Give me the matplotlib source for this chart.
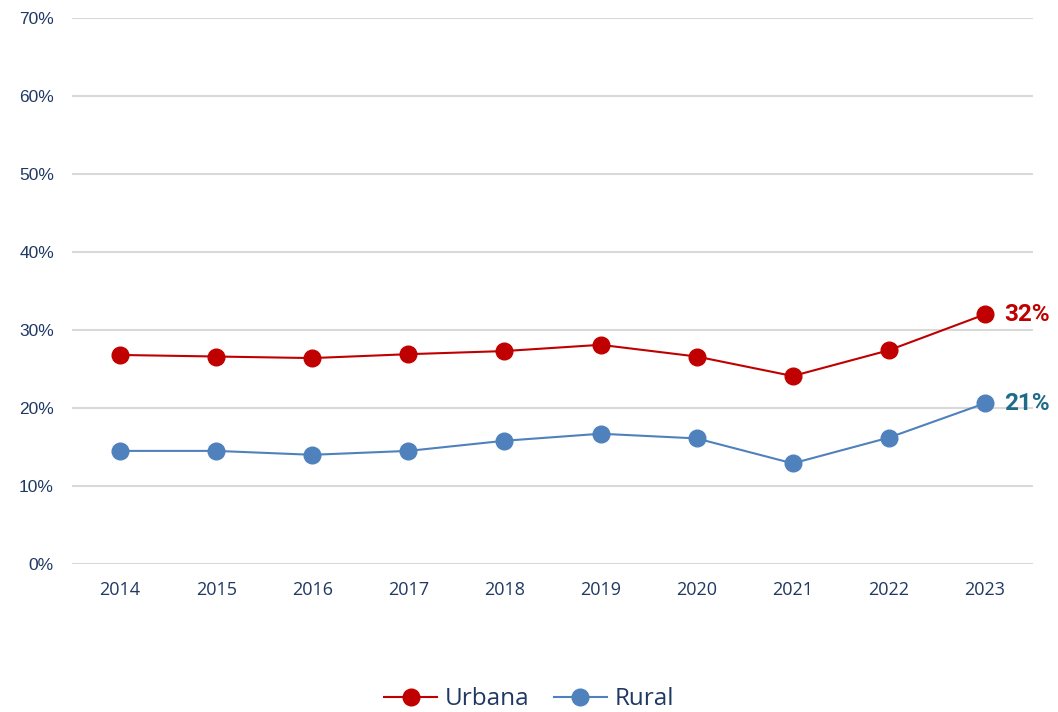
import matplotlib
matplotlib.use("Agg")
import matplotlib.pyplot as plt
from matplotlib.ticker import PercentFormatter

years = ["2014", "2015", "2016", "2017", "2018", "2019", "2020", "2021", "2022", "2023"]
urbana = [26.8, 26.6, 26.4, 26.9, 27.3, 28.1, 26.6, 24.1, 27.4, 32.0]
rural = [14.5, 14.5, 14.0, 14.5, 15.8, 16.7, 16.1, 12.9, 16.2, 20.6]
series_names = ["Urbana", "Rural"]
end_labels = ["32%", "21%"]

red = "#C00000"
blue = "#4F81BD"
txt = "#1F3864"

fig = plt.figure(figsize=(10.58, 7.12), dpi=100)
fig.patch.set_facecolor("white")
ax = fig.add_axes([72/1058, (712-564)/712, (1033-72)/1058, (564-18)/712])
ax.set_facecolor("none")

x = list(range(len(years)))
ax.plot(x, urbana, color=red, lw=1.5, marker="o", ms=12, mfc=red, mec=red, label=series_names[0], zorder=3)
ax.plot(x, rural, color=blue, lw=1.5, marker="o", ms=12, mfc=blue, mec=blue, label=series_names[1], zorder=3)

ax.text(x[-1] + 0.2, urbana[-1], end_labels[0], color=red, fontsize=17.5, fontweight="bold",
        va="center", ha="left", family="Roboto")
ax.text(x[-1] + 0.2, rural[-1], end_labels[1], color="#1F6B8A", fontsize=17.5, fontweight="bold",
        va="center", ha="left", family="Roboto")

ax.set_xlim(-0.5, 9.5)
ax.set_ylim(0, 70)
ax.set_yticks(range(0, 71, 10))
ax.yaxis.set_major_formatter(PercentFormatter(decimals=0))
ax.set_xticks(x)
ax.set_xticklabels(years)
ax.grid(axis="y", color="#D9D9D9", lw=1.5)
ax.set_axisbelow(True)
for s in ax.spines.values():
    s.set_visible(False)
ax.tick_params(length=0)
ax.tick_params(axis="y", pad=13, labelsize=12.5, labelcolor=txt)
ax.tick_params(axis="x", pad=12, labelsize=13, labelcolor=txt)
for lab in ax.get_yticklabels():
    lab.set_family("Liberation Sans")
for lab in ax.get_xticklabels():
    lab.set_family("Open Sans")

leg = fig.legend(loc="lower center", bbox_to_anchor=(0.5, -0.03), ncol=2, frameon=False,
                 prop={"family": "Open Sans", "size": 17.5}, handlelength=2.2, columnspacing=1.0,
                 handletextpad=0.3)
for t in leg.get_texts():
    t.set_color(txt)

fig.savefig("out.png", dpi=100)
